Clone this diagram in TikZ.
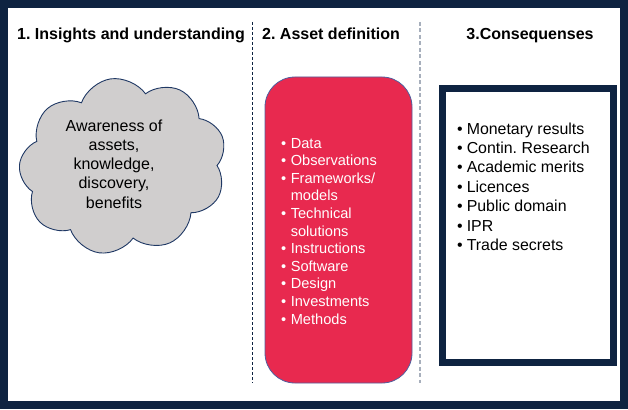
\documentclass[tikz,border=0pt]{standalone}
\usepackage{fontspec}
\setmainfont{Liberation Sans}
\usetikzlibrary{shapes.symbols}
\frenchspacing

\definecolor{navy}{HTML}{0E2341}
\definecolor{cloudgray}{HTML}{D0CECE}
\definecolor{cloudline}{HTML}{1F3864}
\definecolor{assetred}{HTML}{E8294F}
\definecolor{assetline}{HTML}{4F5F9E}
\definecolor{divgray}{HTML}{A7AFBC}

\begin{document}
\begin{tikzpicture}[
  x=1pt, y=-1pt,
  heading/.style={font=\fontsize{16}{19}\selectfont\bfseries, inner sep=0pt},
  cloudbox/.style={cloud, cloud puffs=9, cloud puff arc=125, aspect=1.1,
    draw=cloudline, line width=0.9pt, fill=cloudgray,
    minimum width=208pt, minimum height=176pt, inner sep=0pt},
  assetbox/.style={draw=assetline, line width=0.8pt, fill=assetred,
    rounded corners=30pt, minimum width=147pt, minimum height=306pt},
  resultbox/.style={draw=navy, line width=7pt, fill=white,
    minimum width=171pt, minimum height=274pt},
  listtext/.style={inner sep=0pt, anchor=base west},
]
\useasboundingbox (0,0) rectangle (628,409);

% outer frame
\draw[navy, line width=8pt] (4,4) rectangle (624,405);

% column dividers
\draw[navy, dashed, line width=0.6pt, dash pattern=on 3pt off 2pt] (252,22) -- (252,383);
\draw[divgray, dashed, line width=1.3pt, dash pattern=on 4pt off 2.5pt] (420,22) -- (420,383);

% headings
\node (head1) [heading, anchor=base west] at (17,39.5) {1. Insights and understanding};
\node (head2) [heading, anchor=base west] at (262,39.5) {2. Asset definition};
\node (head3) [heading, anchor=base] at (530,39.5) {3.Consequenses};

% 1. insights
\node (insight) [cloudbox, rotate=8] at (123,166) {};
\node (insighttext) [align=center, inner sep=0pt,
  font=\fontsize{16}{19.2}\selectfont] at (114,164)
  {Awareness of\\assets,\\knowledge,\\discovery,\\benefits};

% 2. assets
\node (asset) [assetbox] at (338.5,230) {};
\node (assettext) [listtext, text=white, font=\fontsize{14.6}{17.6}\selectfont] at (281,148)
  {\begin{tabular}[t]{@{}l@{\hspace{4.5pt}}l@{}}
  \textbullet & Data\\
  \textbullet & Observations\\
  \textbullet & Frameworks/\\
              & models\\
  \textbullet & Technical\\
              & solutions\\
  \textbullet & Instructions\\
  \textbullet & Software\\
  \textbullet & Design\\
  \textbullet & Investments\\
  \textbullet & Methods
  \end{tabular}};

% 3. consequences
\node (result) [resultbox] at (528,225.5) {};
\node (resulttext) [listtext, font=\fontsize{15.9}{19.4}\selectfont] at (457,134)
  {\begin{tabular}[t]{@{}l@{\hspace{4pt}}l@{}}
  \textbullet & Monetary results\\
  \textbullet & Contin. Research\\
  \textbullet & Academic merits\\
  \textbullet & Licences\\
  \textbullet & Public domain\\
  \textbullet & IPR\\
  \textbullet & Trade secrets
  \end{tabular}};

\end{tikzpicture}
\end{document}
